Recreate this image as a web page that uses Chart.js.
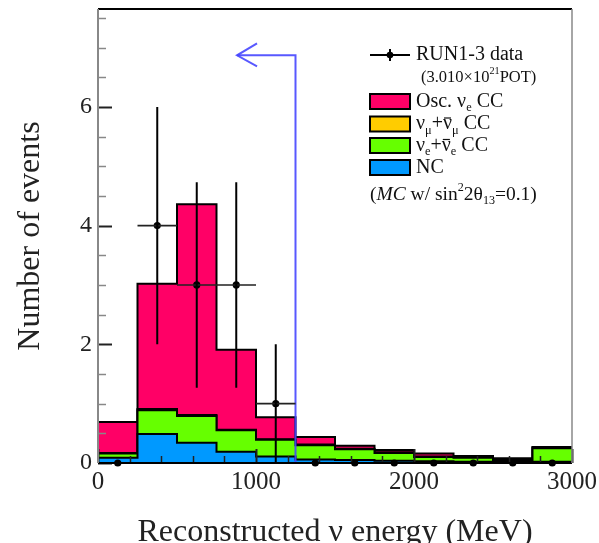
<!DOCTYPE html>
<html><head><meta charset="utf-8">
<script src="https://cdn.jsdelivr.net/npm/chart.js@4.4.1/dist/chart.umd.min.js"></script>
<style>html,body{margin:0;padding:0;background:#fff;overflow:hidden}canvas{display:block}</style>
</head><body>
<canvas id="c" width="599" height="543"></canvas>
<script>
// ---------------- data ----------------
const binEdges   = [0,250,500,750,1000,1250,1500,1750,2000,2250,2500,2750,3000]; // MeV
const ncEvents   = [0.09,0.49,0.34,0.19,0.11,0.06,0.05,0.04,0.03,0.02,0.02,0.02];
const nueBeamCC  = [0.07,0.40,0.45,0.36,0.28,0.24,0.18,0.13,0.07,0.07,0.03,0.23];
const numuCC     = [0.01,0.02,0.02,0.01,0.01,0.01,0.01,0.01,0.01,0.01,0.01,0.01];
const oscNueCC   = [0.52,2.11,3.55,1.35,0.37,0.13,0.05,0.04,0.05,0.02,0.02,0.01];
const dataCounts = [0,4,3,3,1,0,0,0,0,0,0,0];
const dataErrors = [0,2,1.73,1.73,1,0,0,0,0,0,0,0];
const xTickValues = [0,1000,2000,3000];
const yTickValues = [0,2,4,6];
const yMax = 7.65;
const cutEnergy = 1250;     // MeV, selection cut
const arrowEnd = 880;       // MeV, arrow tip
const arrowLevel = 6.87;    // events, arrow height

// ---------------- styling ----------------
const serif = "'Liberation Serif', 'Times New Roman', serif";
const cPink = '#ff0066', cOrange = '#ffcc00', cGreen = '#66ff00', cBlue = '#0099ff';
const cutColor = 'rgba(70,70,255,0.9)';

// cumulative stacks (ROOT-style overlaid histograms)
const stack1 = ncEvents.slice();
const stack2 = stack1.map((v,i)=>v+nueBeamCC[i]);
const stack3 = stack2.map((v,i)=>v+numuCC[i]);
const stack4 = stack3.map((v,i)=>v+oscNueCC[i]);

function stepPoints(vals){
  return binEdges.map((e,i)=>({x:e, y: vals[Math.min(i, vals.length-1)]}));
}
const binCenters = binEdges.slice(0,-1).map((e,i)=>(e+binEdges[i+1])/2);

const vErr = [], hErr = [];
dataCounts.forEach((n,i)=>{
  if (dataErrors[i] > 0) {
    vErr.push({x:binCenters[i], y:n-dataErrors[i]}, {x:binCenters[i], y:n+dataErrors[i]}, {x:binCenters[i], y:null});
    hErr.push({x:binEdges[i], y:n}, {x:binEdges[i+1], y:n}, {x:binEdges[i+1], y:null});
  }
});

function histDS(vals, color){
  return { data: stepPoints(vals), stepped: 'before', fill: 'origin', backgroundColor: color,
           borderColor: '#000', borderWidth: 2, pointRadius: 0, borderJoinStyle: 'miter' };
}

const datasets = [
  { data: vErr, borderColor: '#000', borderWidth: 2, pointRadius: 0, spanGaps: false, fill: false },
  { data: hErr, borderColor: '#222', borderWidth: 1.6, pointRadius: 0, spanGaps: false, fill: false },
  { data: binCenters.map((c,i)=>({x:c, y:dataCounts[i]})), showLine: false, pointRadius: 3.6,
    pointBackgroundColor: '#000', pointBorderColor: '#000', pointBorderWidth: 0, clip: false },
  { data: [{x:cutEnergy, y:0},{x:cutEnergy, y:arrowLevel},{x:arrowEnd, y:arrowLevel}],
    borderColor: cutColor, borderWidth: 2, pointRadius: 0, fill: false },
  histDS(stack1, cBlue),
  histDS(stack2, cGreen),
  histDS(stack3, cOrange),
  histDS(stack4, cPink)
];

function drawRuns(ctx, x, y, runs, size){
  for (const r of runs){
    let fs = size, dy = 0;
    if (r.sub){ fs = size*0.62; dy = size*0.32; }
    if (r.sup){ fs = size*0.62; dy = -size*0.38; }
    ctx.font = (r.italic ? 'italic ' : '') + fs + 'px ' + serif;
    ctx.fillText(r.t, x, y+dy);
    const w = ctx.measureText(r.t).width;
    if (r.bar){
      ctx.beginPath(); ctx.lineWidth = 1.2; ctx.strokeStyle = '#111';
      ctx.moveTo(x+1, y - size*0.30); ctx.lineTo(x+w-1, y - size*0.30); ctx.stroke();
    }
    x += w;
  }
}

const decor = {
  id: 'decor',
  afterDatasetsDraw(chart){
    const {ctx, chartArea:a, scales:{x, y}} = chart;
    ctx.save();
    // inside tick marks
    for (let v = 0; v <= yMax + 1e-9; v += 0.5){
      const py = Math.round(y.getPixelForValue(v)) + 0.5;
      const major = Math.abs(v/2 - Math.round(v/2)) < 1e-6;
      ctx.beginPath();
      ctx.strokeStyle = major ? '#222' : '#888';
      ctx.lineWidth = major ? 2 : 1.5;
      ctx.moveTo(a.left, py); ctx.lineTo(a.left + (major ? 14 : 8), py); ctx.stroke();
    }
    for (let v = 0; v <= 3000; v += 200){
      const px = Math.round(x.getPixelForValue(v)) + 0.5;
      const major = v % 1000 === 0;
      ctx.beginPath();
      ctx.strokeStyle = '#222'; ctx.lineWidth = major ? 2 : 1.5;
      ctx.moveTo(px, a.bottom); ctx.lineTo(px, a.bottom - (major ? 14 : 7)); ctx.stroke();
    }
    // frame
    ctx.lineWidth = 2;
    ctx.strokeStyle = '#000';
    ctx.beginPath(); ctx.moveTo(a.left, a.top); ctx.lineTo(a.right, a.top); ctx.stroke();
    ctx.beginPath(); ctx.moveTo(a.left, a.bottom); ctx.lineTo(a.right, a.bottom); ctx.stroke();
    ctx.strokeStyle = '#888';
    ctx.beginPath(); ctx.moveTo(a.left, a.top); ctx.lineTo(a.left, a.bottom); ctx.stroke();
    ctx.lineWidth = 1.5;
    ctx.beginPath(); ctx.moveTo(a.right, a.top); ctx.lineTo(a.right, a.bottom); ctx.stroke();
    // arrow head
    const tx = x.getPixelForValue(arrowEnd), ty = y.getPixelForValue(arrowLevel);
    ctx.strokeStyle = cutColor; ctx.lineWidth = 2;
    ctx.beginPath(); ctx.moveTo(tx+20, ty-12); ctx.lineTo(tx, ty); ctx.lineTo(tx+20, ty+11); ctx.stroke();

    // legend
    const lx = 370, tx0 = 416, fs = 20;
    ctx.fillStyle = '#111'; ctx.textBaseline = 'middle'; ctx.textAlign = 'left';
    // data entry
    ctx.strokeStyle = '#000'; ctx.lineWidth = 2;
    ctx.beginPath(); ctx.moveTo(lx, 55); ctx.lineTo(lx+40, 55); ctx.stroke();
    ctx.beginPath(); ctx.moveTo(lx+20, 49); ctx.lineTo(lx+20, 61); ctx.stroke();
    ctx.beginPath(); ctx.arc(lx+20, 55, 3.3, 0, Math.PI*2); ctx.fillStyle = '#000'; ctx.fill();
    ctx.fillStyle = '#111';
    drawRuns(ctx, tx0, 55, [{t:'RUN1-3 data'}], fs);
    drawRuns(ctx, 421, 78, [{t:'(3.010×10'},{t:'21',sup:true},{t:'POT)'}], 16.5);
    const rows = [
      {yy:101.5, col:cPink,   runs:[{t:'Osc. ν'},{t:'e',sub:true},{t:' CC'}]},
      {yy:124,   col:cOrange, runs:[{t:'ν'},{t:'μ',sub:true},{t:'+'},{t:'ν',bar:true},{t:'μ',sub:true},{t:' CC'}]},
      {yy:145.5, col:cGreen,  runs:[{t:'ν'},{t:'e',sub:true},{t:'+'},{t:'ν',bar:true},{t:'e',sub:true},{t:' CC'}]},
      {yy:167.5, col:cBlue,   runs:[{t:'NC'}]}
    ];
    rows.forEach(r=>{
      ctx.fillStyle = r.col; ctx.fillRect(lx, r.yy-7.5, 40, 15);
      ctx.strokeStyle = '#000'; ctx.lineWidth = 2; ctx.strokeRect(lx, r.yy-7.5, 40, 15);
      ctx.fillStyle = '#111';
      drawRuns(ctx, tx0, r.yy, r.runs, fs);
    });
    drawRuns(ctx, lx, 195, [{t:'('},{t:'MC',italic:true},{t:' w/ sin'},{t:'2',sup:true},{t:'2θ'},{t:'13',sub:true},{t:'=0.1)'}], 19.5);
    ctx.restore();
  }
};

new Chart(document.getElementById('c'), {
  type: 'line',
  data: { datasets },
  options: {
    responsive: false, animation: false, events: [],
    layout: { padding: { left: 0, right: 27, top: 9, bottom: 0 } },
    plugins: { legend: { display: false }, tooltip: { enabled: false } },
    elements: { line: { tension: 0 } },
    scales: {
      x: {
        type: 'linear', min: 0, max: 3000,
        grid: { display: false, drawTicks: false }, border: { display: false },
        afterBuildTicks: s => { s.ticks = xTickValues.map(v=>({value:v})); },
        ticks: { font: { family: serif, size: 25 }, color: '#222', padding: 4, maxRotation: 0, autoSkip: false,
                 callback: v => String(v) },
        title: { display: true, text: 'Reconstructed ν energy (MeV)', font: { family: serif, size: 32 }, color: '#222', padding: { top: 0, bottom: -9 } },
        afterFit: s => { s.height = 80; s.paddingLeft = 0; s.paddingRight = 0; }
      },
      y: {
        type: 'linear', min: 0, max: yMax,
        grid: { display: false, drawTicks: false }, border: { display: false },
        afterBuildTicks: s => { s.ticks = yTickValues.map(v=>({value:v})); },
        ticks: { font: { family: serif, size: 24 }, color: '#222', padding: 6, autoSkip: false,
                 callback: v => String(v) },
        title: { display: true, text: 'Number of events', font: { family: serif, size: 32 }, color: '#222', padding: { top: 11, bottom: 0 } },
        afterFit: s => { s.width = 98; s.paddingTop = 0; s.paddingBottom = 0; }
      }
    }
  },
  plugins: [decor]
});
</script>
</body></html>
